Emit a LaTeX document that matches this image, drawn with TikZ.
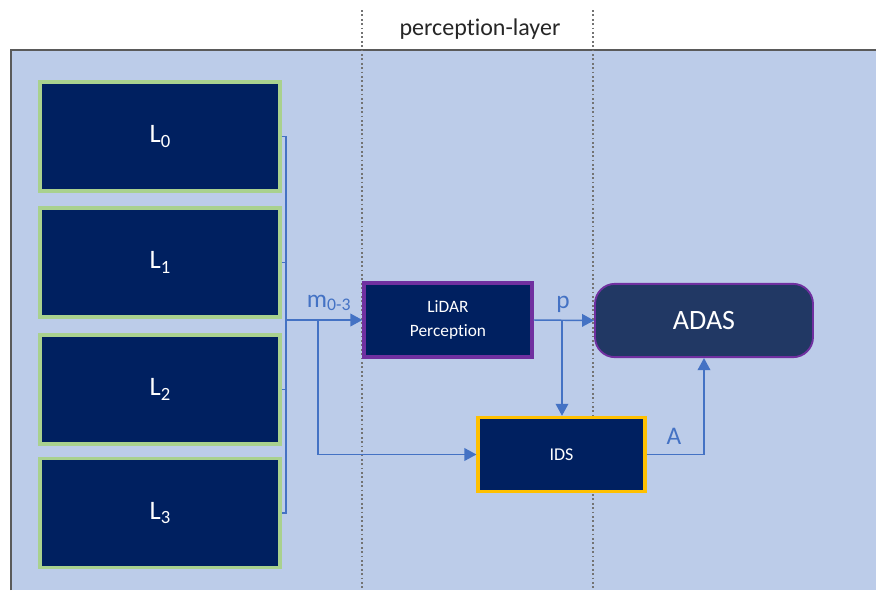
\documentclass[tikz,border=0pt]{standalone}
\usepackage{fontspec}
\setmainfont{Carlito}[Ligatures={NoCommon}]
\usetikzlibrary{arrows.meta}
\definecolor{panel}{RGB}{188,204,233}
\definecolor{navy}{RGB}{0,32,96}
\definecolor{adasfill}{RGB}{33,56,100}
\definecolor{lgreen}{RGB}{169,209,142}
\definecolor{purp}{RGB}{112,48,160}
\definecolor{gold}{RGB}{255,192,0}
\definecolor{conn}{RGB}{68,114,196}
\definecolor{frame}{RGB}{90,90,90}
\newcommand{\lsub}[1]{\raisebox{-0.35ex}{\fontsize{14}{16}\selectfont #1}}
\tikzset{
  lbox/.style={draw=lgreen, line width=2.6pt, fill=navy, minimum width=180pt, minimum height=82pt, text=white, font=\fontsize{20}{22}\selectfont, inner sep=0pt},
  pbox/.style={draw=purp, line width=2.4pt, fill=navy, minimum width=126pt, minimum height=55.5pt, text=white, align=center, font=\fontsize{13}{17.5}\selectfont, inner sep=0pt},
  idsbox/.style={draw=gold, line width=2.6pt, fill=navy, minimum width=125pt, minimum height=55.5pt, text=white, font=\fontsize{13.5}{16}\selectfont, inner sep=0pt},
  adasbox/.style={draw=purp, line width=1.4pt, fill=adasfill, rounded corners=15pt, minimum width=163.5pt, minimum height=55pt, text=white, font=\fontsize{21}{24}\selectfont, inner sep=0pt},
  wire/.style={draw=conn, line width=1.1pt},
  arr/.style={wire, -{Triangle[length=9pt,width=9.5pt]}},
  lbl/.style={text=conn, anchor=base, inner sep=0pt, font=\fontsize{19}{22}\selectfont},
  sep/.style={draw=black!55, line width=1.3pt, dotted},
}
\begin{document}
\begin{tikzpicture}[x=0.75pt,y=-0.75pt]
\useasboundingbox (0,0) rectangle (876,590);
% panel
\fill[panel] (11,50) rectangle (876,590);
\draw[frame, line width=1.6pt] (11,590) -- (11,50) -- (876,50);
% separators
\draw[sep] (362,10) -- (362,590);
\draw[sep] (593,10) -- (593,590);
\node[anchor=base, inner sep=0pt, font=\fontsize{18}{20}\selectfont, text=black!85] (layer) at (480,35) {perception-layer};
% L boxes
\node[lbox] (L0) at (160,136.5) {L\lsub{0}};
\node[lbox] (L1) at (160,262.5) {L\lsub{1}};
\node[lbox] (L2) at (160,389.5) {L\lsub{2}};
\node[lbox] (L3) at (160,513) {L\lsub{3}};
% other boxes
\node[pbox] (lidar) at (448,320) {LiDAR\\Perception};
\node[adasbox] (adas) at (704,320.5) {ADAS};
\node[idsbox] (ids) at (561.5,454.5) {IDS};
% bus
\coordinate (bt) at (286,136.5);
\coordinate (bb) at (286,513);
\coordinate (j) at (286,320);
\coordinate (j2) at (318,320);
\coordinate (j3) at (562,320);
\draw[wire] (L0.east) -- (bt) -- (bb) -- (L3.east);
\draw[wire] (L1.east) -- (L1.east -| bt);
\draw[wire] (L2.east) -- (L2.east -| bt);
\draw[arr] (j) -- (lidar.west);
\draw[arr] (j2) |- (ids.west);
\draw[arr] (lidar.east) -- (adas.west);
\draw[arr] (j3) -- (j3 |- ids.north);
\draw[arr] (ids.east) -| (adas.south);
% labels
\node[lbl] (m) at (329,307) {m\textsubscript{0-3}};
\node[lbl] (p) at (563,308) {p};
\node[lbl] (A) at (674,444) {A};
\end{tikzpicture}
\end{document}
